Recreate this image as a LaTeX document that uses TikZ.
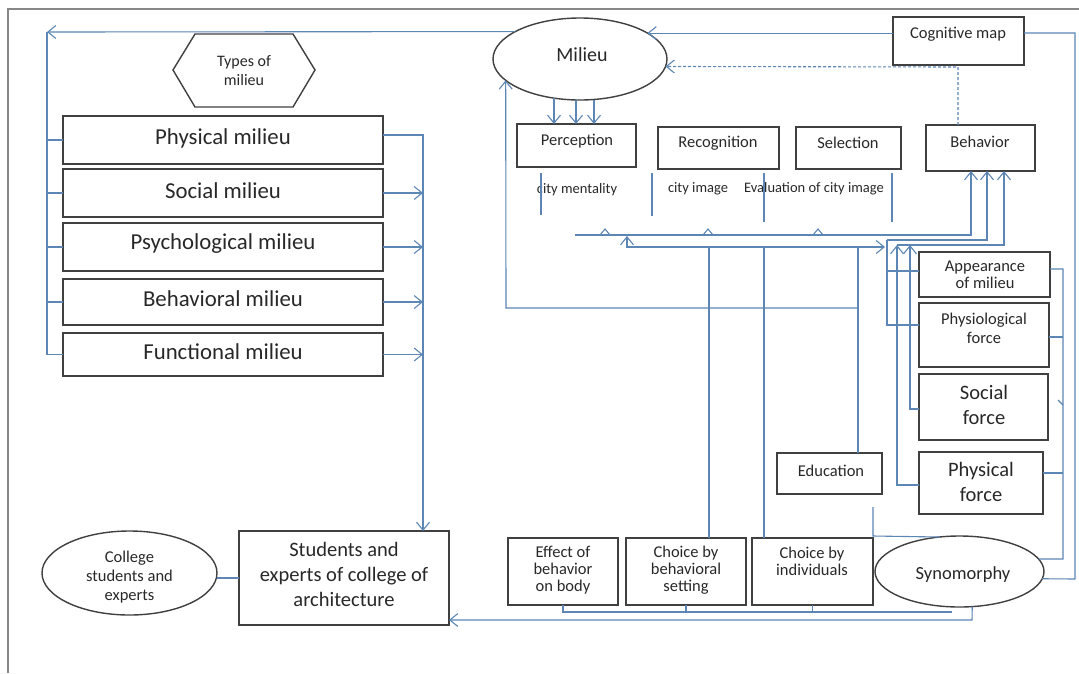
\documentclass[tikz,border=0pt]{standalone}
\usepackage{fontspec}
\setmainfont{Carlito}
\usetikzlibrary{arrows.meta,shapes.geometric}
\definecolor{wire}{RGB}{92,134,180}
\definecolor{rim}{RGB}{64,64,64}
\definecolor{ink}{RGB}{40,40,40}
\definecolor{rulegray}{RGB}{135,135,135}
\newcommand\fs[2]{\fontsize{#1}{#2}\selectfont}
\tikzset{
  box/.style={draw=rim, line width=1.4pt, inner sep=0pt, outer sep=0pt},
  oval/.style={box, ellipse},
  wire/.style={draw=wire, line width=1.1pt},
  tip/.style={wire, -{Straight Barb[length=8pt, width=13pt]}},
  txt/.style={text=ink, align=center, inner sep=0pt},
  big/.style={txt, font=\fs{22.8}{27}},
  mid/.style={txt, font=\fs{20.5}{25}},
  small/.style={txt, font=\fs{16.5}{19}},
  tiny/.style={txt, font=\fs{14.5}{17}},
}
% rectangle node from its corner pixels: name, x1, y1, x2, y2
\newcommand\mkbox[5]{\node[box, minimum width={(#4-#2)*1pt}, minimum height={(#5-#3)*1pt}] (#1) at ({(#2+#4)/2},{(#3+#5)/2}) {};}
\begin{document}
\begin{tikzpicture}[x=1pt,y=-1pt]
\useasboundingbox (0,0) rectangle (1079,673);
\draw[rulegray, line width=2pt] (8,673) -- (8,9) -- (1079,9);

% ---- types of milieu ----
\node[txt, font=\fs{16}{19}] (typesT) at (244,71) {Types of\\milieu};
\draw[rim, line width=1.4pt] (173,70) -- (195,34) -- (293,34) -- (315,70) -- (293,107) -- (195,107) -- cycle;

\mkbox{phys}{63}{116}{383}{164}
\mkbox{soc}{63}{169}{383}{217}
\mkbox{psy}{63}{223}{383}{271}
\mkbox{bhv}{63}{279}{383}{325}
\mkbox{fun}{63}{333}{383}{376}
\node[big] (physT) at (223,138) {Physical milieu};
\node[big] (socT) at (223,191) {Social milieu};
\node[big] (psyT) at (223,244) {Psychological milieu};
\node[big] (bhvT) at (223,299) {Behavioral milieu};
\node[big] (funT) at (223,352) {Functional milieu};

% ---- milieu and its parts ----
\node[oval, minimum width=174pt, minimum height=82pt] (milieu) at (580,59) {};
\node[txt, font=\fs{20}{24}] (milieuT) at (582,55) {Milieu};
\mkbox{cog}{893}{17}{1024}{65}
\node[small] (cogT) at (958,34) {Cognitive map};
\mkbox{perc}{517}{124}{636}{167}
\node[small] (percT) at (577,141) {Perception};
\mkbox{recog}{658}{127}{779}{169}
\node[small] (recogT) at (718,143) {Recognition};
\mkbox{sel}{796}{127}{901}{169}
\node[small] (selT) at (848,143) {Selection};
\mkbox{beh}{926}{125}{1035}{171}
\node[small] (behT) at (980,142) {Behavior};
\node[tiny] (lab1) at (577,190) {city mentality};
\node[tiny] (lab2) at (698,189) {city image};
\node[tiny] (lab3) at (814,189) {Evaluation of city image};

% ---- forces ----
\mkbox{app}{919}{252}{1050}{297}
\node[txt, font=\fs{16.5}{17.5}] (appT) at (985,275) {Appearance\\of milieu};
\mkbox{phy}{919}{303}{1049}{367}
\node[small] (phyT) at (984,328) {Physiological\\force};
\mkbox{socf}{919}{374}{1048}{440}
\node[mid] (socfT) at (984,405) {Social\\force};
\mkbox{phf}{919}{452}{1043}{514}
\node[mid] (phfT) at (981,482) {Physical\\force};
\mkbox{edu}{777}{453}{882}{494}
\node[small] (eduT) at (831,471) {Education};

% ---- bottom row ----
\node[oval, minimum width=175pt, minimum height=84pt] (col) at (129.5,573) {};
\node[small] (colT) at (129.5,577) {College\\students and\\experts};
\mkbox{studs}{239}{531}{449}{625}
\node[mid] (studsT) at (344,574) {Students and\\experts of college of\\architecture};
\mkbox{eff}{508}{538}{618}{605}
\node[txt, font=\fs{16.5}{17}] (effT) at (563,570) {Effect of\\behavior\\on body};
\mkbox{chb}{626}{538}{746}{605}
\node[txt, font=\fs{16.5}{17}] (chbT) at (686,570) {Choice by\\behavioral\\setting};
\mkbox{chi}{752}{538}{873}{605}
\node[txt, font=\fs{16.5}{17}] (chiT) at (812,561.5) {Choice by\\individuals};
\node[oval, minimum width=169pt, minimum height=71pt] (syn) at (959.5,571.5) {};
\node[txt, font=\fs{18.5}{22}] (synT) at (963,575) {Synomorphy};

% ---- connectors: left column ----
\draw[tip] (milieu.157.6) -- (47,32);
\draw[wire] (47,32) -- (fun.west -| 47,0) -- (fun.west);
\foreach \b in {phys,soc,psy,bhv} \draw[wire] (\b.west -| 47,0) -- (\b.west);
\draw[tip] (phys.east |- 0,135) -- (423,135) -- (studs.north -| 423,0);
\foreach \b in {soc,psy,bhv,fun} \draw[tip] (\b.east) -- (\b.east -| 423,0);
\draw[wire] (studs.west) -- (studs.west -| col.east);

% ---- connectors: milieu ----
\draw[tip] (milieu.21.1 -| cog.west) -- (milieu.21.1);
\draw[tip, dash pattern=on 3pt off 2pt] (beh.north -| 958,0) -- (958,67) -- (milieu.-5.4);
\draw[wire] (cog.east |- 0,33) -- (1075,33) -- (1075,579) -- (syn.-5.2);
\foreach \x/\y in {554/98, 576/100, 594/99.5} \draw[tip] (\x,\y) -- (perc.north -| \x,0);
\foreach \x/\a/\b in {541/173/215, 652/173/216, 764/173/222, 892/173/222} \draw[wire] (\x,\a) -- (\x,\b);

% ---- connectors: middle network ----
\draw[tip] (575,235) -- (971,235) -- (beh.south -| 971,0);
\foreach \x in {605,708,818} \draw[wire] (\x-5,235) -- (\x,229) -- (\x+5,235);
\draw[wire, {Straight Barb[length=8pt,width=13pt]}-{Straight Barb[length=8pt,width=13pt]}] (627,236) -- (627,247) -- (885,247);
\draw[wire] (709,247) -- (chb.north -| 709,0);
\draw[wire] (764,247) -- (chi.north -| 764,0);
\draw[wire] (858,247) -- (edu.north -| 858,0);
\draw[tip] (858,308) -- (506,308) -- (milieu.196.3);
\draw[wire] (873,507) -- (873,536) -- (syn.120.8);

% ---- connectors: forces to behavior ----
\draw[tip] (887,240) -- (987,240) -- (beh.south -| 987,0);
\draw[wire] (887,240) -- (887,325) -- (phy.west |- 0,325);
\draw[wire] (887,271) -- (app.west |- 0,271);
\draw[tip] (897,245) -- (1004,245) -- (beh.south -| 1004,0);
\draw[tip] (phf.west |- 0,485) -- (897,485) -- (897,245);
\draw[tip] (socf.west |- 0,409) -- (910,409) -- (910,245);
\draw[wire] (app.east |- 0,269) -- (1063,269) -- (1063,559) -- (syn.9);
\draw[wire] (phy.east |- 0,337) -- (1063,337);
\draw[wire] (phf.east |- 0,473) -- (1063,473);
\draw[wire] (1058,400) -- (1063,405);

% ---- connectors: bottom ----
\draw[wire] (eff.south) -- (eff.south |- 0,612) -- (952,612);
\draw[wire] (chb.south) -- (chb.south |- 0,612);
\draw[wire] (chi.south) -- (chi.south |- 0,612);
\draw[tip] (syn.-70.4) -- (972,620) -- (studs.east |- 0,620);
\end{tikzpicture}
\end{document}
